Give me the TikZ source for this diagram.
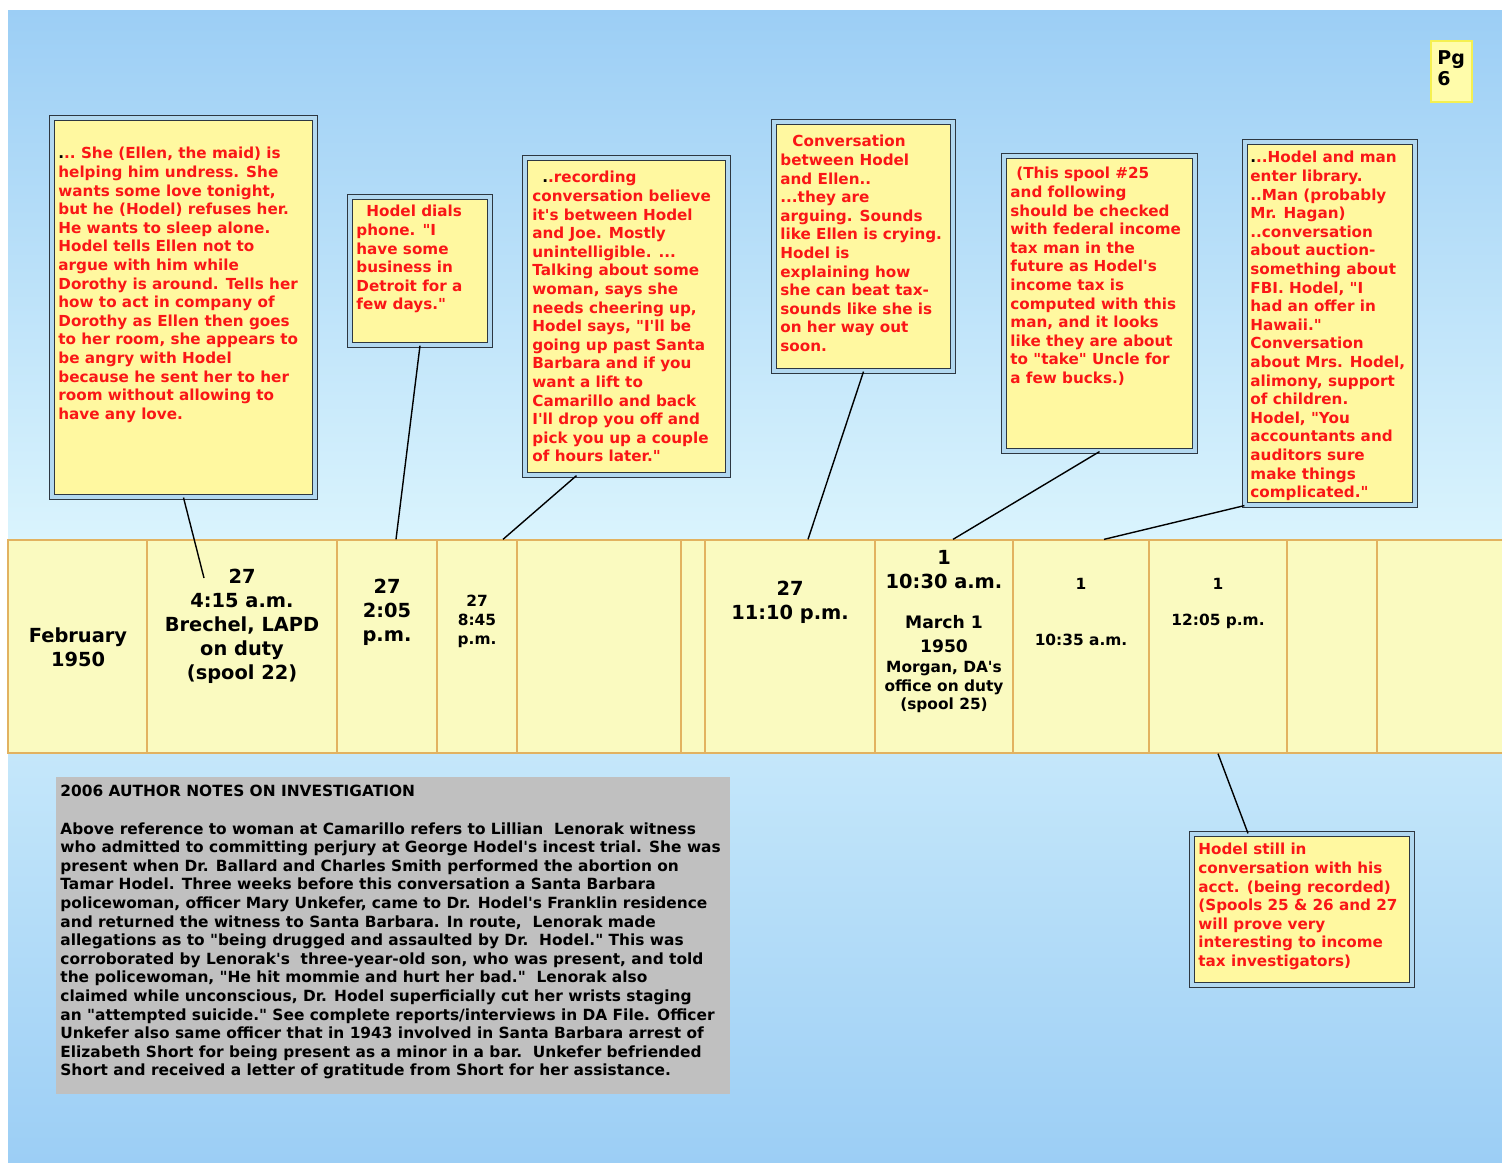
\documentclass[tikz,border=0pt]{standalone}
\usepackage{fontspec}
\setmainfont{DejaVu Sans}
\newfontfamily\vf{DejaVu Sans}
\usetikzlibrary{fit,calc}
\definecolor{bgtop}{RGB}{156,206,245}
\definecolor{bgmid}{RGB}{218,244,253}
\definecolor{bandfill}{RGB}{250,250,192}
\definecolor{bandline}{RGB}{226,178,96}
\definecolor{callfill}{RGB}{255,248,160}
\definecolor{framec}{RGB}{45,55,65}
\definecolor{gapc}{RGB}{178,216,240}
\definecolor{redt}{RGB}{250,22,22}
\definecolor{grayb}{RGB}{192,192,192}
\definecolor{pgfill}{RGB}{255,252,170}
\definecolor{pgline}{RGB}{245,240,80}
\tikzset{
  cell/.style={draw=bandline, fill=bandfill, line width=0.65pt, inner sep=0pt},
  band/.style={draw=bandline, line width=1.1pt, inner sep=0pt},
  callout/.style={draw=framec, double=gapc, double distance=2pt, line width=0.6pt, fill=callfill, inner sep=0pt},
  redtxt/.style={text=redt, font=\vf\bfseries\fontsize{7.6}{9.3}\selectfont, align=left, inner sep=0pt, anchor=north west},
  bigtxt/.style={font=\vf\bfseries\fontsize{9.7}{12}\selectfont, align=center, inner sep=0pt, anchor=north},
  smalltxt/.style={font=\vf\bfseries\fontsize{7.7}{9.3}\selectfont, align=center, inner sep=0pt, anchor=north},
  conn/.style={draw=black, line width=0.7pt},
}
\begin{document}
\begin{tikzpicture}[x=0.5pt,y=-0.5pt]
\useasboundingbox (0,0) rectangle (1502,1162);
\fill[white] (0,0) rectangle (1502,1162);
\shade[top color=bgtop, bottom color=bgmid] (8,10) rectangle (1502,541);
\shade[top color=bgmid, bottom color=bgtop] (8,540) rectangle (1502,1162);

% timeline cells
\node[cell, fit={(8,540)(147,753)}] (c1) {};
\node[cell, fit={(147,540)(337,753)}] (c2) {};
\node[cell, fit={(337,540)(437,753)}] (c3) {};
\node[cell, fit={(437,540)(517,753)}] (c4) {};
\node[cell, fit={(517,540)(681,753)}] (c5) {};
\node[cell, fit={(681,540)(705,753)}] (c6) {};
\node[cell, fit={(705,540)(875,753)}] (c7) {};
\node[cell, fit={(875,540)(1013,753)}] (c8) {};
\node[cell, fit={(1013,540)(1149,753)}] (c9) {};
\node[cell, fit={(1149,540)(1287,753)}] (c10) {};
\node[cell, fit={(1287,540)(1377,753)}] (c11) {};
\node[cell, fit={(1377,540)(1503,753)}] (c12) {};
\node[band, fit={(8,540)(1504,753)}] (band) {};

% cell texts
\node[bigtxt] (t1) at (78,627) {February\\1950};
\node[bigtxt] (t2) at (242,569) {27\\4:15 a.m.\\Brechel, LAPD\\on duty\\(spool 22)};
\node[bigtxt] (t3) at (387,579) {27\\2:05\\p.m.};
\node[font=\vf\bfseries\fontsize{7.7}{9.5}\selectfont, align=center, inner sep=0pt, anchor=north] (t4) at (477,595) {27\\8:45\\p.m.};
\node[bigtxt] (t7) at (790,581) {27\\11:10 p.m.};
\node[bigtxt] (t8a) at (944,550) {1\\10:30 a.m.};
\node[font=\vf\bfseries\fontsize{8.6}{12}\selectfont, align=center, inner sep=0pt, anchor=north] (t8b) at (944,615) {March 1\\1950};
\node[smalltxt] (t8c) at (944,661) {Morgan, DA's\\office on duty\\(spool 25)};
\node[smalltxt] (t9) at (1081,578) {1\\[18.7pt]10:35 a.m.};
\node[smalltxt] (t10) at (1218,578) {1\\[8.7pt]12:05 p.m.};

% callout boxes
\node[callout, fit={(52,118)(315,497)}] (b1) {};
\node[callout, fit={(350,197)(490,345)}] (b2) {};
\node[callout, fit={(525,158)(728,475)}] (b3) {};
\node[callout, fit={(774,122)(953,371)}] (b4) {};
\node[callout, fit={(1004,156)(1195,451)}] (b5) {};
\node[callout, fit={(1245,142)(1415,505)}] (b6) {};
\node[callout, fit={(1192,834)(1412,985)}] (b7) {};

\node[redtxt] (b1t) at (58,147) {{\color{black}.}..\ She (Ellen, the maid) is\\helping him undress. She\\wants some love tonight,\\but he (Hodel) refuses her.\\He wants to sleep alone.\\Hodel tells Ellen not to\\argue with him while\\Dorothy is around. Tells her\\how to act in company of\\Dorothy as Ellen then goes\\to her room, she appears to\\be angry with Hodel\\because he sent her to her\\room without allowing to\\have any love.};
\node[redtxt] (b2t) at (356,205) {\hspace*{5pt}Hodel dials\\phone. "I\\have some\\business in\\Detroit for a\\few days."};
\node[redtxt] (b3t) at (532,171) {\hspace*{5pt}{\color{black}.}.recording\\conversation believe\\it's between Hodel\\and Joe. Mostly\\unintelligible. ...\\Talking about some\\woman, says she\\needs cheering up,\\Hodel says, "I'll be\\going up past Santa\\Barbara and if you\\want a lift to\\Camarillo and back\\I'll drop you off and\\pick you up a couple\\of hours later."};
\node[redtxt] (b4t) at (780,135) {\hspace*{6pt}Conversation\\between Hodel\\and Ellen..\\...they are\\arguing. Sounds\\like Ellen is crying.\\Hodel is\\explaining how\\she can beat tax-\\sounds like she is\\on her way out\\soon.};
\node[redtxt] (b5t) at (1010,167) {\hspace*{3pt}(This spool \#25\\and following\\should be checked\\with federal income\\tax man in the\\future as Hodel's\\income tax is\\computed with this\\man, and it looks\\like they are about\\to "take" Uncle for\\a few bucks.)};
\node[redtxt] (b6t) at (1250,151) {{\color{black}.}..Hodel and man\\enter library.\\..Man (probably\\Mr. Hagan)\\..conversation\\about auction-\\something about\\FBI. Hodel, "I\\had an offer in\\Hawaii."\\Conversation\\about Mrs. Hodel,\\alimony, support\\of children.\\Hodel, "You\\accountants and\\auditors sure\\make things\\complicated."};
\node[redtxt] (b7t) at (1198,843) {Hodel still in\\conversation with his\\acct. (being recorded)\\(Spools 25 \& 26 and 27\\will prove very\\interesting to income\\tax investigators)};

% connectors
\coordinate (e1) at (204,578);
\draw[conn] (b1.south) -- (e1);
\draw[conn] (b2.south) -- ($(c3.north)+(9,0)$);
\draw[conn] ($(b3.south)+(-50,0)$) -- ($(c4.north)+(26,0)$);
\draw[conn] (b4.south) -- ($(c7.north)+(18,0)$);
\draw[conn] (b5.south) -- ($(c8.north)+(9,0)$);
\draw[conn] (b6.south west) -- ($(c9.north)+(23,0)$);
\draw[conn] (c10.south) -- ($(b7.north)+(-54,0)$);

% author notes
\node[fill=grayb, inner sep=0pt, fit={(56,777)(730,1094)}] (notes) {};
\node[font=\vf\bfseries\fontsize{7.7}{9.3}\selectfont, align=left, inner sep=0pt, anchor=north west] (notest) at (60,785) {2006 AUTHOR NOTES ON INVESTIGATION\\[9.3pt]Above reference to woman at Camarillo refers to Lillian\ \ Lenorak witness\\who admitted to committing perjury at George Hodel's incest trial. She was\\present when Dr. Ballard and Charles Smith performed the abortion on\\Tamar Hodel. Three weeks before this conversation a Santa Barbara\\policewoman, officer Mary Unkefer, came to Dr. Hodel's Franklin residence\\and returned the witness to Santa Barbara. In route,\ \ Lenorak made\\allegations as to "being drugged and assaulted by Dr.\ \ Hodel." This was\\corroborated by Lenorak's\ \ three-year-old son, who was present, and told\\the policewoman, "He hit mommie and hurt her bad."\ \ Lenorak also\\claimed while unconscious, Dr. Hodel superficially cut her wrists staging\\an "attempted suicide." See complete reports/interviews in DA File. Officer\\Unkefer also same officer that in 1943 involved in Santa Barbara arrest of\\Elizabeth Short for being present as a minor in a bar.\ \ Unkefer befriended\\Short and received a letter of gratitude from Short for her assistance.};

% page tag
\node[draw=pgline, fill=pgfill, line width=1pt, inner sep=0pt, fit={(1431,41)(1472,102)}] (pg) {};
\node[font=\vf\bfseries\fontsize{9.5}{10.5}\selectfont, align=left, inner sep=0pt, anchor=north west] (pgt) at (1437,50) {Pg\\6};
\end{tikzpicture}
\end{document}
